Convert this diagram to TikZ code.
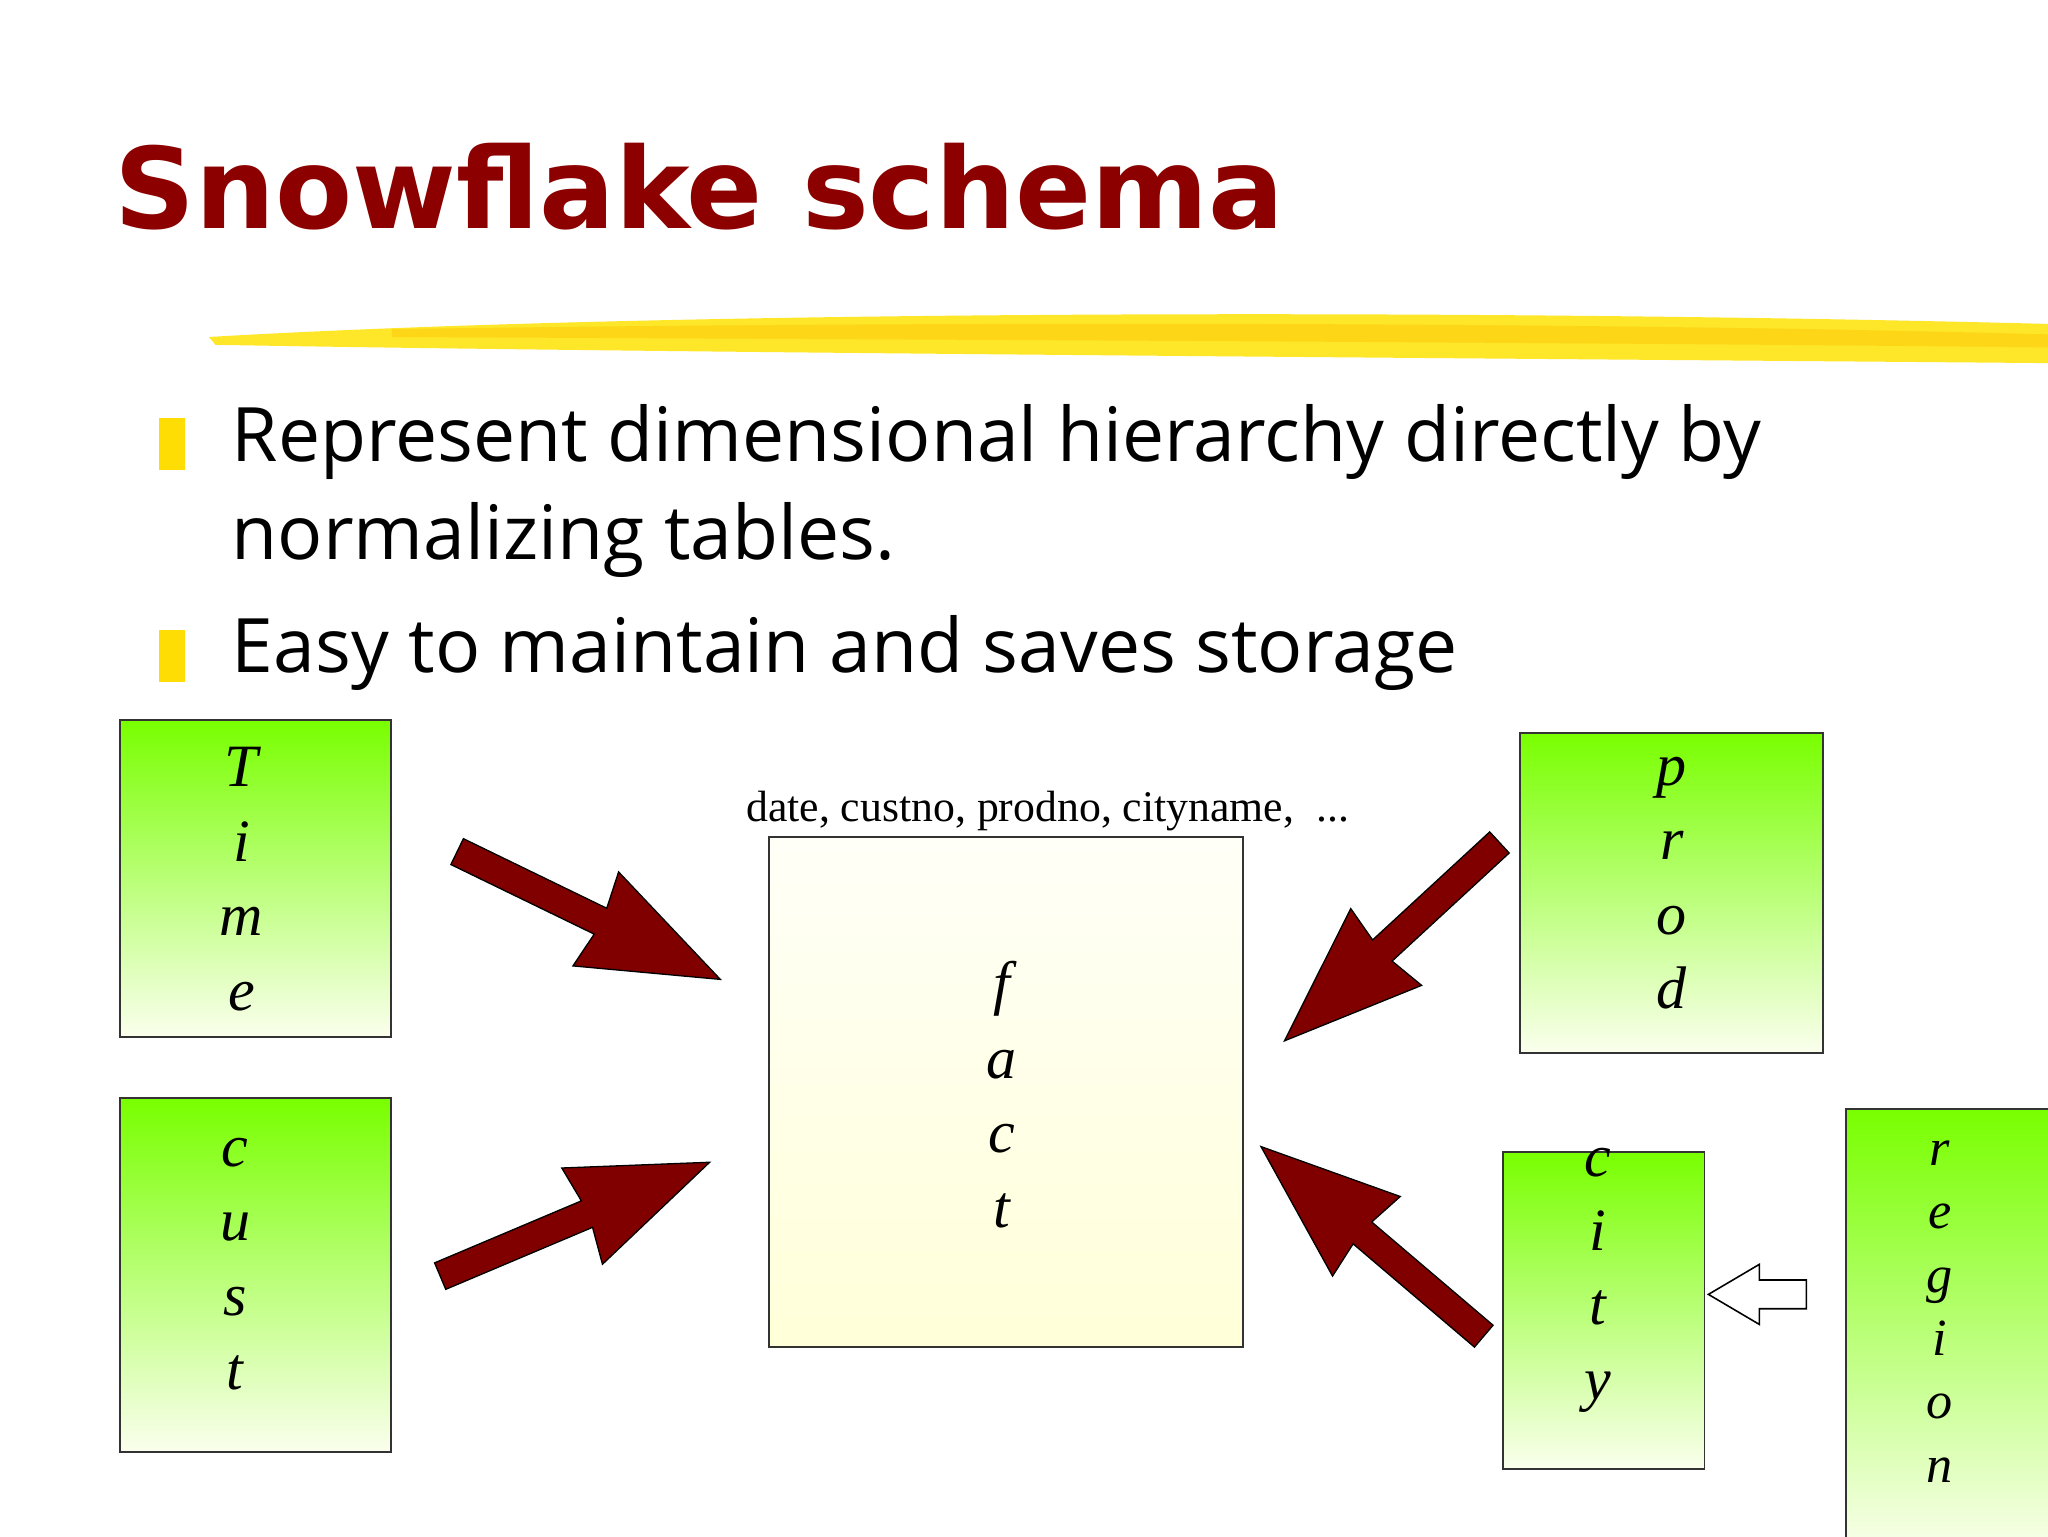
\documentclass[tikz,border=0pt]{standalone}
\usepackage{fontspec}
\setmainfont{Liberation Serif}
\newfontfamily\titlefont{DejaVu Sans}
\newfontfamily\bodyfont{Open Sans}
\begin{document}
\begin{tikzpicture}[x=1pt,y=-1pt]
\tikzset{
 dimbox/.style={draw=black!80,line width=1.5pt,top color=green!45!lime!90!yellow,bottom color=white!93!lime},
 letters/.style={font=\fontsize{46}{57}\selectfont\itshape,align=center,inner sep=0pt},
 redarrow/.style={fill=red!50!black,draw=black,line width=1pt},
}
\useasboundingbox (0,0) rectangle (1568,1176);
\fill[white] (0,0) rectangle (1568,1176);
\node[anchor=west,text=red!55!black,font=\titlefont\bfseries\fontsize{86}{90}\selectfont] (title) at (84,143) {Snowflake schema};
% brush stroke
\fill[yellow!85!orange,opacity=0.85] (160,258) .. controls (500,238) and (1100,236) .. (1568,248) -- (1568,278) .. controls (1100,274) and (500,270) .. (165,264) -- cycle;
\fill[yellow!60!orange,opacity=0.5] (300,252) .. controls (700,246) and (1200,246) .. (1568,256) -- (1568,266) .. controls (1200,262) and (700,260) .. (300,258) -- cycle;
% bullets
\fill[yellow!80!orange] (122,320) rectangle (142,360);
\fill[yellow!80!orange] (122,482) rectangle (142,522);
\node[anchor=north west,align=left,font=\bodyfont\fontsize{57.5}{75}\selectfont] (b1) at (174,306) {Represent dimensional hierarchy directly by\\normalizing tables.};
\node[anchor=north west,font=\bodyfont\fontsize{57.5}{75}\selectfont] (b2) at (174,468) {Easy to maintain and saves storage};
% boxes
\draw[dimbox] (92,551) rectangle (299,794);
\draw[dimbox] (92,841) rectangle (299,1112);
\draw[draw=black!80,line width=1.5pt,top color=white!97!yellow,bottom color=yellow!15] (589,641) rectangle (952,1031);
\draw[dimbox] (1164,561) rectangle (1396,806);
\draw[dimbox] (1151,882) rectangle (1305,1125);
\draw[dimbox] (1413,849) rectangle (1580,1190);
\node[font=\fontsize{33.5}{38}\selectfont,inner sep=0pt] (hdr) at (802,621) {date, custno, prodno, cityname,\ \ ...};
\node[letters] (time) at (185,673) {T\\i\\m\\e};
\node[letters] (cust) at (180,968) {c\\u\\s\\t};
\node[letters] (fact) at (767,838) {f\\a\\c\\t};
\node[letters] (prod) at (1280,676) {p\\r\\o\\d};
\node[letters] (city) at (1223,980) {c\\i\\t\\y};
\node[letters,font=\fontsize{40}{48.5}\selectfont\itshape] (region) at (1485,1004) {r\\e\\g\\i\\o\\n};
% red block arrows
\foreach \sx/\sy/\ang in {350/652/-25.9, 337/977/22.9, 1148/645/-137.3, 1136/1023/139.6}{
 \begin{scope}[shift={(\sx,\sy)},rotate=\ang]
 \draw[redarrow] (0,-11) -- (122,-11) -- (118,-40) -- (224,0) -- (118,40) -- (122,11) -- (0,11) -- cycle;
 \end{scope}
}
% white arrow region -> city
\draw[fill=white,draw=black,line width=1.2pt] (1383,980) -- (1347,980) -- (1347,968) -- (1308,991) -- (1347,1014) -- (1347,1002) -- (1383,1002) -- cycle;
\end{tikzpicture}
\end{document}
